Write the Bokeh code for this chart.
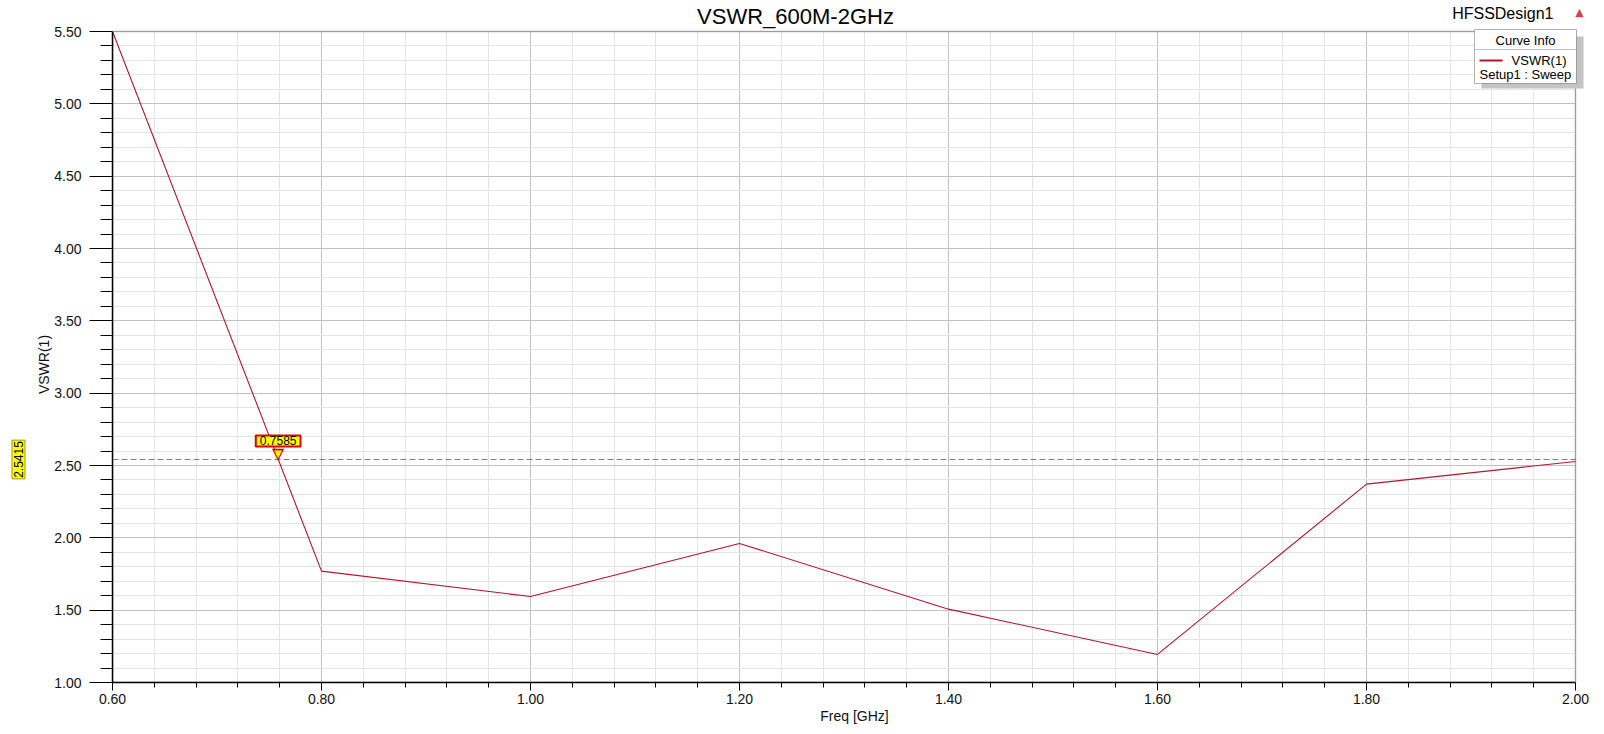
import math
from bokeh.plotting import figure
from bokeh.models import FixedTicker, PrintfTickFormatter, Span, Label, BoxAnnotation, Range1d
from bokeh.embed import file_html
from bokeh.resources import INLINE

# ---- data ----
freq_ghz = [0.6, 0.8, 1.0, 1.2, 1.4, 1.6, 1.8, 2.0]
vswr_1 = [5.50, 1.77, 1.594, 1.961, 1.507, 1.194, 2.371, 2.528]
marker_freq = 0.7585
marker_vswr = 2.5415
x_ticks = [0.6, 0.8, 1.0, 1.2, 1.4, 1.6, 1.8, 2.0]
y_ticks = [1.0, 1.5, 2.0, 2.5, 3.0, 3.5, 4.0, 4.5, 5.0, 5.5]
title_text = "VSWR_600M-2GHz"
design_text = "HFSSDesign1"
legend_title = "Curve Info"
legend_label = "VSWR(1)"
legend_sub = "Setup1 : Sweep"
x_label = "Freq [GHz]"
y_label = "VSWR(1)"

FONT = "Liberation Sans"
RED = "#b5142c"

# layout (pixels)
W, H = 1596, 730
LEFT, BOTTOM = 112, 48
DATA_W, DATA_H = 1463, 651       # size of the boxed data area
TOP_PAD = 31                      # canvas space above the data box
RIGHT_PAD = W - LEFT - DATA_W     # canvas space right of the data box

x0, x1 = x_ticks[0], x_ticks[-1]
y0, y1 = y_ticks[0], y_ticks[-1]
x_end = x1 + RIGHT_PAD * (x1 - x0) / DATA_W
y_end = y1 + TOP_PAD * (y1 - y0) / DATA_H

x_minor = [round(a + k * (b - a) / 5, 3) for a, b in zip(x_ticks[:-1], x_ticks[1:]) for k in range(1, 5)]
y_minor = [round(a + k * (b - a) / 5, 3) for a, b in zip(y_ticks[:-1], y_ticks[1:]) for k in range(1, 5)]

p = figure(width=W, height=H, output_backend="svg", toolbar_location=None,
           x_range=Range1d(x0, x_end), y_range=Range1d(y0, y_end),
           min_border_left=LEFT, min_border_right=0, min_border_top=0, min_border_bottom=BOTTOM)
p.title.visible = False
p.background_fill_color = "white"
p.border_fill_color = "white"
p.outline_line_color = None

xt = FixedTicker(ticks=x_ticks, minor_ticks=x_minor)
yt = FixedTicker(ticks=y_ticks, minor_ticks=y_minor)
for ax, t, b in ((p.xaxis[0], xt, (x0, x1)), (p.yaxis[0], yt, (y0, y1))):
    ax.ticker = t
    ax.bounds = b
    ax.formatter = PrintfTickFormatter(format="%.2f")
    ax.axis_line_color = "black"
    ax.axis_line_width = 1.5
    ax.major_tick_line_color = "black"
    ax.minor_tick_line_color = "black"
    ax.major_tick_in = 0
    ax.minor_tick_in = 0
    ax.major_label_text_font = FONT
    ax.major_label_text_font_size = "14px"
    ax.major_label_text_color = "#111111"
    ax.axis_label_text_font = FONT
    ax.axis_label_text_font_size = "14px"
    ax.axis_label_text_font_style = "normal"
    ax.axis_label_text_color = "#111111"

p.xaxis.major_tick_out = 8
p.xaxis.minor_tick_out = 5
p.xaxis.major_label_standoff = 3
p.xaxis.axis_label = x_label
p.xaxis.axis_label_standoff = 1

p.yaxis.major_tick_out = 23
p.yaxis.minor_tick_out = 12
p.yaxis.major_label_standoff = 8

for g, t in ((p.xgrid[0], xt), (p.ygrid[0], yt)):
    g.ticker = t
    g.grid_line_color = "#c2c2c2"
    g.grid_line_width = 1
    g.minor_grid_line_color = "#e4e4e4"
    g.minor_grid_line_width = 1

# curve
p.line(freq_ghz, vswr_1, line_color=RED, line_width=1.1)

# marker dashed line
p.add_layout(Span(location=marker_vswr, dimension="width", line_color="#808080",
                  line_dash="6 3", line_width=1))

# white margins above / right of the data box, and the box border
p.add_layout(BoxAnnotation(bottom=y1, fill_color="white", fill_alpha=1, line_color=None))
p.add_layout(BoxAnnotation(left=x1, fill_color="white", fill_alpha=1, line_color=None))
p.add_layout(BoxAnnotation(left=x0, right=x1, bottom=y0, top=y1, fill_alpha=0,
                           line_color="black", line_width=1.5))

# marker pointer + x tag
p.add_layout(Label(x=marker_freq, y=marker_vswr, text="▼", text_align="center",
                   text_baseline="bottom", y_offset=-4, text_font="DejaVu Sans",
                   text_font_size="16px", text_color="#e00000"))
p.add_layout(Label(x=marker_freq, y=marker_vswr, text="▼", text_align="center",
                   text_baseline="bottom", y_offset=0, text_font="DejaVu Sans",
                   text_font_size="10px", text_color="#ffff00"))
p.add_layout(Label(x=marker_freq, y=marker_vswr, text=f"{marker_freq:.4f}", text_align="center",
                   text_baseline="bottom", y_offset=13, text_font=FONT, text_font_size="12px",
                   text_color="black", background_fill_color="#ffff00",
                   border_line_color="#e00000", border_line_width=2,
                   padding=dict(left=4, right=4, top=1, bottom=1)))

# title & design name (frame-relative screen coordinates)
p.add_layout(Label(x=683, y=666, x_units="screen", y_units="screen", text=title_text,
                   text_align="center", text_baseline="alphabetic", text_font=FONT,
                   text_font_size="22px", text_color="black"))
p.add_layout(Label(x=1441, y=669, x_units="screen", y_units="screen", text=design_text,
                   text_align="right", text_baseline="alphabetic", text_font=FONT,
                   text_font_size="16px", text_color="black"))
p.add_layout(Label(x=1467, y=670, x_units="screen", y_units="screen", text="▲",
                   text_align="center", text_baseline="alphabetic", text_font="DejaVu Sans",
                   text_font_size="11px", text_color="#c84848"))

# legend box
def sbox(l, r, t, b, **kw):
    return BoxAnnotation(left=l, right=r, top=t, bottom=b, left_units="screen",
                         right_units="screen", top_units="screen", bottom_units="screen", **kw)

p.add_layout(sbox(1369, 1471, 646, 594, fill_color="#c4c4c4", fill_alpha=1, line_color=None))
p.add_layout(sbox(1362, 1464, 653, 599, fill_color="white", fill_alpha=1, line_color="black", line_width=1))
p.add_layout(sbox(1362, 1464, 633, 633, fill_alpha=0, line_color="#8a8a8a", line_width=1))
p.add_layout(sbox(1367, 1390, 623, 621, fill_color=RED, fill_alpha=1, line_color=None))
p.add_layout(Label(x=1413, y=642, x_units="screen", y_units="screen", text=legend_title,
                   text_align="center", text_baseline="alphabetic", text_font=FONT,
                   text_font_size="13px", text_color="black"))
p.add_layout(Label(x=1454, y=622, x_units="screen", y_units="screen", text=legend_label,
                   text_align="right", text_baseline="alphabetic", text_font=FONT,
                   text_font_size="13px", text_color="black"))
p.add_layout(Label(x=1367, y=608, x_units="screen", y_units="screen", text=legend_sub,
                   text_align="left", text_baseline="alphabetic", text_font=FONT,
                   text_font_size="13px", text_color="black"))

# left-side texts: axis title and the y-value tag of the marker
p.add_layout(Label(x=8, y=318, x_units="screen", y_units="screen", text=y_label,
                   angle=math.pi / 2, text_align="center", text_baseline="middle",
                   text_font=FONT, text_font_size="14px", text_color="#111111"), "left")
p.add_layout(Label(x=-6, y=marker_vswr, x_units="screen", text=f"{marker_vswr:.4f}",
                   angle=math.pi / 2, text_align="center", text_baseline="middle",
                   text_font=FONT, text_font_size="12px", text_color="black",
                   background_fill_color="#ffff00", border_line_color="#a0a000",
                   border_line_width=1, padding=dict(left=1, right=1, top=2, bottom=2)), "left")

open("out.html", "w").write(file_html(p, INLINE))
